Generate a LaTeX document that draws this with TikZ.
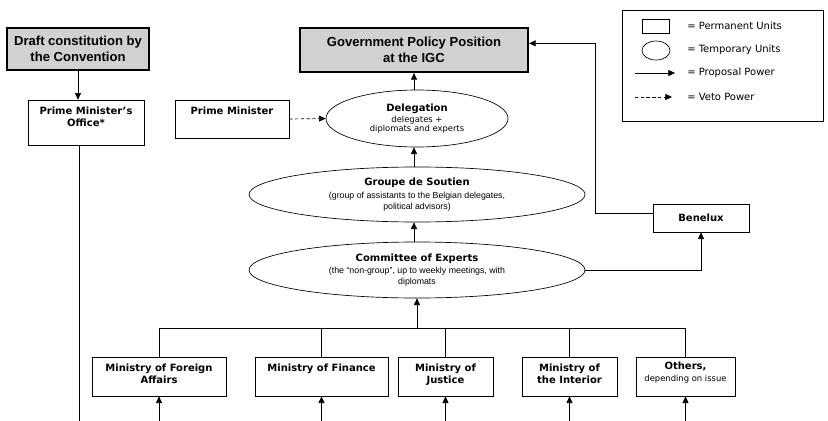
\documentclass[tikz,border=0pt]{standalone}
\usepackage{fontspec}
\setmainfont{Liberation Sans}
\newfontfamily\verd{DejaVu Sans}
\usetikzlibrary{arrows.meta,shapes.geometric}

\newcommand\unitname{\verd\bfseries\fontsize{7.5}{9}\selectfont}
\newcommand\smallverd{\verd\mdseries\fontsize{6.3}{7}\selectfont}
\newcommand\armsub{\mdseries\fontsize{6.6}{7.8}\selectfont}

\tikzset{
  headbox/.style={draw, line width=1.6pt, fill=black!18, align=center,
    font=\fontsize{9.8}{11.6}\selectfont\bfseries, inner sep=0pt},
  unitbox/.style={draw, line width=0.5pt, inner sep=0pt},
  tempunit/.style={draw, ellipse, line width=0.5pt, inner sep=0pt, align=center},
  boxtext/.style={anchor=north, align=center, inner sep=0pt, yshift=-5pt,
    font=\unitname},
  legtext/.style={anchor=west, inner sep=0pt, font=\verd\fontsize{7.5}{9}\selectfont},
  prop/.style={-{Triangle[length=5pt,width=4.5pt]}, line width=0.5pt},
  veto/.style={prop, dash pattern=on 2.5pt off 1.8pt},
}

\begin{document}
\begin{tikzpicture}[x=0.75pt, y=-0.75pt]
\useasboundingbox (0,0) rectangle (828,421);

% top of the hierarchy
\node[headbox, minimum width=106.5pt, minimum height=31.5pt] (draft) at (78,49)
  {Draft constitution by\\the Convention};
\node[headbox, minimum width=171pt, minimum height=33pt] (gov) at (414,50)
  {Government Policy Position\\at the IGC};

\node[unitbox, minimum width=87pt, minimum height=33.75pt,
  label={[boxtext]north:Prime Minister’s\\Office*}] (pmo) at (86,122.5) {};
\node[unitbox, minimum width=85.5pt, minimum height=28.5pt,
  label={[boxtext]north:Prime Minister}] (pm) at (232,119) {};

% temporary units
\node[tempunit, font=\smallverd, minimum width=136.5pt, minimum height=42.75pt] (del) at (417,118.5)
  {\unitname Delegation\\[1.5pt]\smallverd delegates +\\\smallverd diplomats and experts};
\node[tempunit, font=\armsub, minimum width=252pt, minimum height=41.25pt] (gds) at (417,194.5)
  {\unitname Groupe de Soutien\\[2pt]\armsub (group of assistants to the Belgian delegates,\\\armsub political advisors)};
\node[tempunit, font=\armsub, minimum width=252pt, minimum height=42pt] (coe) at (417,270)
  {\unitname Committee of Experts\\[1.5pt]\armsub (the “non-group”, up to weekly meetings, with\\\armsub diplomats};

\node[unitbox, minimum width=72pt, minimum height=21pt, font=\unitname] (ben) at (701,218) {Benelux};

% ministries
\node[unitbox, minimum width=100.5pt, minimum height=29.25pt,
  label={[boxtext]north:Ministry of Foreign\\Affairs}] (mfa) at (159,376.5) {};
\node[unitbox, minimum width=99.75pt, minimum height=29.25pt,
  label={[boxtext]north:Ministry of Finance}] (mfi) at (321.5,376.5) {};
\node[unitbox, minimum width=71.25pt, minimum height=29.25pt,
  label={[boxtext]north:Ministry of\\Justice}] (mju) at (445.5,376.5) {};
\node[unitbox, minimum width=71.25pt, minimum height=29.25pt,
  label={[boxtext]north:Ministry of\\the Interior}] (min) at (569.5,376.5) {};
\node[unitbox, minimum width=74.25pt, minimum height=29.25pt,
  label={[boxtext, yshift=1pt]north:Others,\\\smallverd depending on issue}] (oth) at (685.5,376.5) {};

\coordinate (bus) at (417,328);
\coordinate (floor) at (0,421);
\coordinate (pmoend) at (79,421);

% connectors
\draw[prop] (draft.south) -- (draft.south |- pmo.north);
\draw[line width=0.5pt] (pmoend |- pmo.south) -- (pmoend);
\draw[veto] (pm.east) -- (del.west);
\draw[prop] (del.north -| gov.south) -- (gov.south);
\draw[prop] (gds.north -| gov.south) -- (del.south -| gov.south);
\draw[prop] (coe.north -| gov.south) -- (gds.south -| gov.south);
\draw[prop] (coe.east) -| (ben.south);
\draw[prop] ([yshift=3.75pt]ben.west) -- ++(-57,0) |- ([yshift=5pt]gov.east);

\draw[line width=0.5pt] (mfa.north) -- (mfa.north |- bus) -- (oth.north |- bus) -- (oth.north);
\foreach \m in {mfi,mju,min}
  \draw[line width=0.5pt] (\m.north) -- (\m.north |- bus);
\draw[prop] (bus) -- (coe.south);
\foreach \m in {mfa,mfi,mju,min,oth}
  \draw[prop] (\m.south |- floor) -- (\m.south);

% legend
\node[unitbox, minimum width=150.75pt, minimum height=83.25pt] (legend) at (722.5,65.5) {};
\node[unitbox, minimum width=20.25pt, minimum height=10.5pt] (legrect) at (655.5,26) {};
\node[draw, ellipse, line width=0.5pt, minimum width=21pt, minimum height=14.25pt] (legell) at (656,50.5) {};
\coordinate (pa1) at (635,73);
\coordinate (pa2) at (675,73);
\coordinate (va1) at (635,97);
\coordinate (va2) at (672,97);
\draw[prop] (pa1) -- (pa2);
\draw[veto] (va1) -- (va2);
\node[legtext] (leg1) at (687,26) {= Permanent Units};
\node[legtext] (leg2) at (687,50) {= Temporary Units};
\node[legtext] (leg3) at (687,73) {= Proposal Power};
\node[legtext] (leg4) at (687,97) {= Veto Power};
\end{tikzpicture}
\end{document}
